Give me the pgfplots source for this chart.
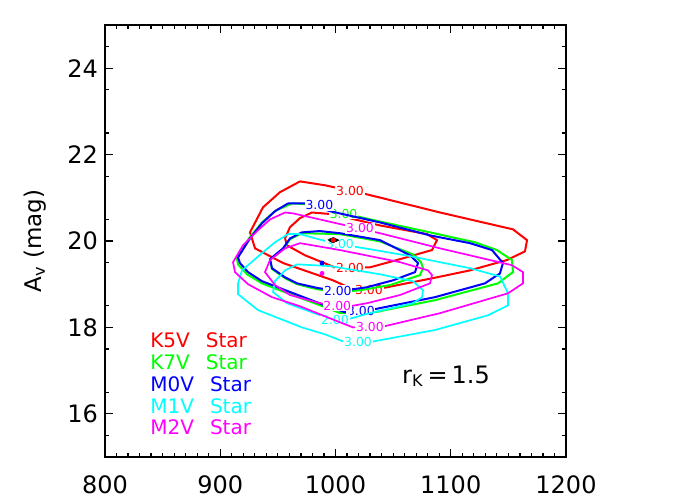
\documentclass[border=0pt]{standalone}
\usepackage{fontspec}
\setmainfont{DejaVu Sans}
\usepackage{pgfplots}
\pgfplotsset{compat=1.18}
\definecolor{cR}{RGB}{255,0,0}
\definecolor{cG}{RGB}{0,255,0}
\definecolor{cB}{RGB}{0,0,255}
\definecolor{cC}{RGB}{0,255,255}
\definecolor{cM}{RGB}{255,0,255}
\tikzset{clab/.style={font=\fontsize{6.2}{6.5}\selectfont, fill=white, inner sep=0.4pt}}
\begin{document}
\begin{tikzpicture}
\begin{axis}[
  scale only axis, width=230.5pt, height=216pt,
  xmin=800, xmax=1200, ymin=15, ymax=25,
  xtick={800,900,...,1200}, ytick={16,18,...,24},
  minor xtick={810,820,...,1190}, minor ytick={15.5,16.5,...,24.5},
  tick align=inside, major tick length=4pt, minor tick length=2pt,
  axis line style={line width=0.8pt},
  every tick/.style={black, line width=0.6pt},
  ticklabel style={font=\fontsize{12}{14}\selectfont},
  xticklabel style={yshift=-6pt},
  /pgf/number format/assume math mode=true,
  /pgf/number format/1000 sep={},
  ylabel={A\textsubscript{v} (mag)},
  every axis y label/.style={at={(axis description cs:-0.152,0.5)}, rotate=90, anchor=center, font=\fontsize{11.5}{14}\selectfont},
  clip=false,
]
% ---- K5V (red)
\addplot[cR, line width=1pt] coordinates {
(969.2,21.38) (990.9,21.29) (1027.3,21.08) (1090.7,20.66) (1154.0,20.27) (1166.2,20.02)
(1164.4,19.76) (1148.8,19.56) (1116.7,19.32) (1088.1,19.16) (1044.7,18.93) (1029.9,18.86)
(1018.7,18.84) (997.8,19.09) (954.5,19.49) (930.2,19.83) (925.8,20.20) (937.1,20.78)
(951.8,21.13) (969.2,21.38)};
\addplot[cR, line width=1pt] coordinates {
(956.2,20.06) (960.5,20.32) (969.2,20.53) (979.6,20.66) (997.8,20.62) (1038.6,20.36)
(1079.4,20.16) (1088.1,20.02) (1083.7,19.79) (1056.0,19.58) (1029.9,19.39) (1001.3,19.37)
(973.5,19.67) (957.9,19.90) (956.2,20.06)};
\node[clab, text=cR] at (axis cs:1012.6,21.16) {3.00};
\node[clab, text=cR] at (axis cs:1029,18.87) {3.00};
\node[clab, text=cR] at (axis cs:1012.6,19.38) {2.00};
% ---- K7V (green)
\addplot[cG, line width=1pt] coordinates {
(962.3,20.87) (977.9,20.85) (1003.9,20.66) (1038.6,20.45) (1082.0,20.20) (1121.0,19.97)
(1140.1,19.79) (1153.1,19.56) (1154.0,19.28) (1141.0,19.02) (1086.3,18.63) (1056.0,18.47)
(1029.9,18.33) (1003.9,18.33) (990.9,18.47) (960.5,18.77) (936.2,19.02) (923.2,19.23)
(915.4,19.46) (914.5,19.60) (924.9,20.06) (936.2,20.43) (948.4,20.71) (962.3,20.87)};
\addplot[cG, line width=1pt] coordinates {
(954.5,19.81) (960.5,20.04) (970.9,20.18) (1003.9,20.16) (1038.6,19.99) (1067.2,19.69)
(1074.2,19.51) (1075.9,19.37) (1073.3,19.21) (1047.3,18.98) (1021.3,18.86) (1003.9,18.82)
(984.8,18.88) (966.6,19.00) (956.2,19.14) (944.9,19.35) (943.2,19.56) (954.5,19.81)};
\node[clab, text=cG] at (axis cs:1007,20.63) {3.00};
% ---- M0V (blue)
\addplot[cB, line width=1pt] coordinates {
(958.8,20.87) (973.5,20.87) (995.2,20.69) (1038.6,20.43) (1082.0,20.13) (1116.7,19.95)
(1135.8,19.79) (1145.3,19.49) (1142.7,19.25) (1129.7,19.02) (1086.3,18.70) (1056.0,18.54)
(1029.9,18.40) (1008.2,18.35) (990.9,18.51) (960.5,18.82) (936.2,19.07) (924.1,19.28)
(917.1,19.49) (915.4,19.62) (925.8,20.06) (936.2,20.41) (947.5,20.69) (958.8,20.87)};
\addplot[cB, line width=1pt] coordinates {
(954.5,19.83) (960.5,20.06) (970.9,20.20) (986.5,20.23) (1003.9,20.18) (1038.6,20.02)
(1064.6,19.67) (1071.6,19.49) (1069.0,19.28) (1049.9,19.09) (1027.3,18.93) (1003.9,18.84)
(984.8,18.91) (966.6,19.02) (956.2,19.16) (944.9,19.37) (943.2,19.58) (954.5,19.83)};
\node[clab, text=cB] at (axis cs:986,20.83) {3.00};
\node[clab, text=cB] at (axis cs:1022,18.37) {3.00};
\node[clab, text=cB] at (axis cs:1002,18.85) {2.00};
% ---- M1V (cyan)
\addplot[cC, line width=0.85pt] coordinates {
(958.8,20.16) (969.2,20.16) (997.8,19.95) (1029.9,19.81) (1064.6,19.65) (1116.7,19.37)
(1142.7,19.18) (1149.7,18.79) (1149.7,18.51) (1132.3,18.28) (1086.3,17.94) (1029.9,17.66)
(1008.2,17.66) (990.9,17.84) (970.9,18.00) (932.8,18.40) (915.4,18.77) (915.4,19.02)
(918.9,19.32) (936.2,19.72) (947.5,19.97) (958.8,20.16)};
\addplot[cC, line width=0.85pt] coordinates {
(966.6,19.46) (995.2,19.42) (1038.6,19.23) (1067.2,19.07) (1075.9,18.86) (1075.1,18.70)
(1067.2,18.56) (1029.9,18.33) (1008.2,18.17) (990.9,18.24) (957.9,18.56) (945.8,18.82)
(947.5,19.07) (956.2,19.32) (966.6,19.46)};
\node[clab, text=cC] at (axis cs:1003.9,19.92) {3.00};
\node[clab, text=cC] at (axis cs:999.5,18.18) {2.00};
\node[clab, text=cC] at (axis cs:1019.5,17.67) {3.00};
% ---- M2V (magenta)
\addplot[cM, line width=0.85pt] coordinates {
(956.2,20.66) (963.1,20.64) (997.8,20.43) (1038.6,20.18) (1090.7,19.83) (1153.1,19.44)
(1162.7,19.28) (1162.7,19.02) (1149.7,18.79) (1090.7,18.33) (1043.0,18.03) (1015.2,18.00)
(995.2,18.21) (969.2,18.49) (944.9,18.70) (924.1,19.00) (912.8,19.28) (911.1,19.51)
(919.7,19.90) (932.8,20.25) (943.2,20.50) (956.2,20.66)};
\addplot[cM, line width=0.85pt] coordinates {
(969.2,19.95) (1003.9,19.79) (1056.0,19.51) (1080.3,19.32) (1083.7,19.21) (1082.0,19.02)
(1056.0,18.75) (1027.3,18.56) (1008.2,18.47) (986.5,18.56) (960.5,18.75) (947.5,18.98)
(938.8,19.28) (943.2,19.56) (956.2,19.83) (969.2,19.95)};
\node[clab, text=cM] at (axis cs:1021.3,20.29) {3.00};
\node[clab, text=cM] at (axis cs:1029.9,18.02) {3.00};
\node[clab, text=cM] at (axis cs:1001.5,18.50) {2.00};
% ---- minima / inner contours
\addplot[black, line width=0.8pt] coordinates {(994,20.02) (998,20.07) (1002,20.02) (998,19.97) (994,20.02)};
\addplot[only marks, mark=*, mark size=1pt, cR] coordinates {(998,20.02)};
\addplot[only marks, mark=*, mark size=1pt, cB] coordinates {(988.3,19.49)};
\addplot[only marks, mark=*, mark size=1pt, cM] coordinates {(988.3,19.25)};
% ---- legend text
\node[anchor=west, inner sep=0pt, text=cR, font=\fontsize{10}{12}\selectfont] at (axis cs:839,17.71) {K5V\hspace{0.8em}Star};
\node[anchor=west, inner sep=0pt, text=cG, font=\fontsize{10}{12}\selectfont] at (axis cs:839,17.20) {K7V\hspace{0.8em}Star};
\node[anchor=west, inner sep=0pt, text=cB, font=\fontsize{10}{12}\selectfont] at (axis cs:839,16.69) {M0V\hspace{0.8em}Star};
\node[anchor=west, inner sep=0pt, text=cC, font=\fontsize{10}{12}\selectfont] at (axis cs:839,16.18) {M1V\hspace{0.8em}Star};
\node[anchor=west, inner sep=0pt, text=cM, font=\fontsize{10}{12}\selectfont] at (axis cs:839,15.70) {M2V\hspace{0.8em}Star};
\node[anchor=base west, font=\fontsize{12}{14}\selectfont, inner sep=0pt] at (axis cs:1057.5,16.71) {r\textsubscript{K}\,=\,1.5};
\end{axis}
\pgfresetboundingbox
\path (-52.5pt,-21.5pt) rectangle (297.5pt,228.5pt);
\end{tikzpicture}
\end{document}
